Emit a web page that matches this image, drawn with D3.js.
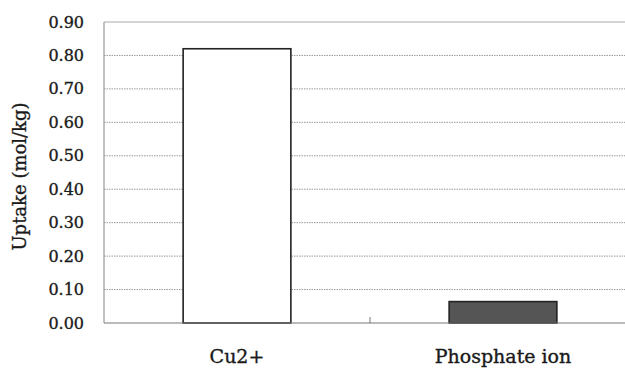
<!DOCTYPE html>
<meta charset='utf-8'>
<style>
  body { margin: 0; background: #fff; }
  text { font-family: 'DejaVu Serif', 'Liberation Serif', serif; fill: #1a1a1a; stroke: #1a1a1a; stroke-width: 0.35px; }
</style>
<body>
<div class="chart"></div>
<script src="https://cdn.jsdelivr.net/npm/d3@7/dist/d3.min.js"></script>
<script>

var categories = ['Cu2+', 'Phosphate ion'];
var uptake = [0.82, 0.064];
var yTicks = [0, 0.1, 0.2, 0.3, 0.4, 0.5, 0.6, 0.7, 0.8, 0.9];
var barColors = ['#ffffff', '#555555'];

var width = 625, height = 369;
var plotLeft = 104, plotRight = 636, plotTop = 22, plotBottom = 323;

var svg = d3.select('.chart')
	.append('svg')
	.attr('width', width)
	.attr('height', height);

var x = d3.scaleBand()
	.domain(categories)
	.range([plotLeft, plotRight])
	.padding(0);

var y = d3.scaleLinear()
	.domain([0, 0.9])
	.range([plotBottom, plotTop]);

var barW = x.bandwidth() * 0.405;

// gridlines
svg.append('g')
	.selectAll('line')
	.data(yTicks.filter(function(d){ return d > 0 && d < 0.9; }))
	.enter().append('line')
	.attr('x1', plotLeft)
	.attr('x2', width)
	.attr('y1', function(d){ return y(d); })
	.attr('y2', function(d){ return y(d); })
	.attr('stroke', '#999')
	.attr('stroke-width', 1)
	.attr('stroke-dasharray', '1.5,1');

// top border
svg.append('line')
	.attr('x1', plotLeft).attr('x2', width)
	.attr('y1', y(0.9)).attr('y2', y(0.9))
	.attr('stroke', '#aaa').attr('stroke-width', 1.2);

// left axis line
svg.append('line')
	.attr('x1', plotLeft).attr('x2', plotLeft)
	.attr('y1', y(0.9)).attr('y2', y(0))
	.attr('stroke', '#999').attr('stroke-width', 1.2);

// bars
svg.append('g')
	.selectAll('rect')
	.data(uptake)
	.enter().append('rect')
	.attr('x', function(d, i){ return x(categories[i]) + (x.bandwidth() - barW) / 2; })
	.attr('width', barW)
	.attr('y', function(d){ return y(d); })
	.attr('height', function(d){ return y(0) - y(d); })
	.attr('fill', function(d, i){ return barColors[i]; })
	.attr('stroke', '#222')
	.attr('stroke-width', 1.6);

// bottom axis
svg.append('line')
	.attr('x1', plotLeft).attr('x2', width)
	.attr('y1', y(0)).attr('y2', y(0))
	.attr('stroke', '#777').attr('stroke-width', 1.2);

svg.append('g')
	.selectAll('line')
	.data(categories.slice(1))
	.enter().append('line')
	.attr('x1', function(d){ return x(d); })
	.attr('x2', function(d){ return x(d); })
	.attr('y1', y(0))
	.attr('y2', y(0) - 6)
	.attr('stroke', '#777');

// y tick labels
svg.append('g')
	.selectAll('text')
	.data(yTicks)
	.enter().append('text')
	.attr('x', 84)
	.attr('y', function(d){ return y(d); })
	.attr('dy', '0.35em')
	.attr('text-anchor', 'end')
	.style('font-size', '16px')
	.text(function(d){ return d3.format('.2f')(d); });

// category labels
svg.append('g')
	.selectAll('text')
	.data(categories)
	.enter().append('text')
	.attr('x', function(d){ return x(d) + x.bandwidth() / 2; })
	.attr('y', 363)
	.attr('text-anchor', 'middle')
	.style('font-size', '19px')
	.text(function(d){ return d; });

// y axis title
svg.append('text')
	.attr('transform', 'translate(26,' + ((plotTop + plotBottom) / 2 + 4) + ') rotate(-90)')
	.attr('text-anchor', 'middle')
	.style('font-size', '18px')
	.text('Uptake (mol/kg)');

</script>
</body>
</html>
